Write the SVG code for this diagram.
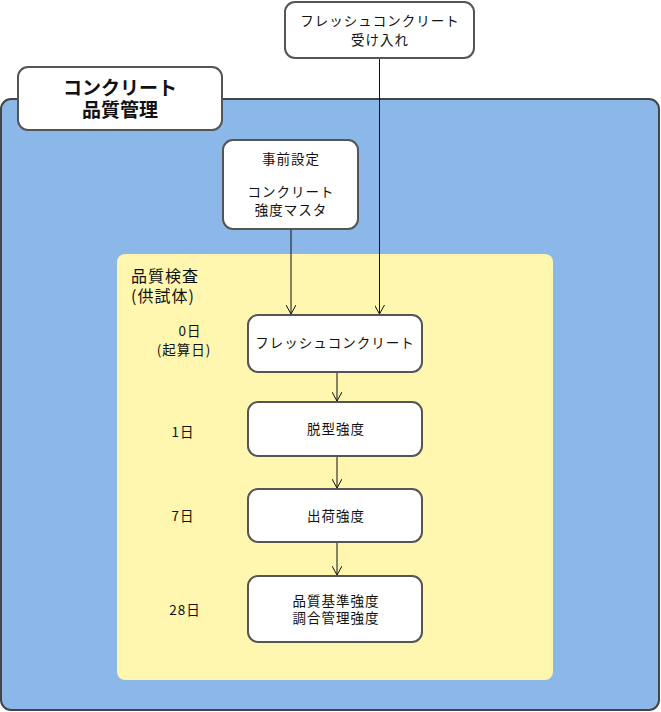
<svg xmlns="http://www.w3.org/2000/svg" width="661" height="712" viewBox="0 0 661 712">
<defs>
<style>
.t{font-family:"Noto Sans CJK JP","Noto Sans",sans-serif;font-size:13.5px;letter-spacing:1px;fill:#111;text-anchor:middle}
.b{fill:#fff;stroke:#555;stroke-width:2}
.c{stroke:#111;stroke-width:1;fill:none}
</style>
<marker id="a" viewBox="0 0 10 10" refX="10" refY="5" markerWidth="10" markerHeight="10" markerUnits="userSpaceOnUse" orient="auto">
<path d="M1,0 L10,5 L1,10" fill="none" stroke="#111" stroke-width="1"/>
</marker>
</defs>
<g id="container">
<rect x="1" y="99" width="658" height="611" rx="10" fill="#8bb8e8" stroke="#444" stroke-width="2"/>
</g>
<g id="title">
<rect x="18" y="67" width="204" height="63" rx="10" class="b"/>
<text x="120" y="95" class="t" style="font-size:19px;font-weight:bold;letter-spacing:0">コンクリート</text>
<text x="120" y="117" class="t" style="font-size:19px;font-weight:bold;letter-spacing:0">品質管理</text>
</g>
<g id="inspection">
<rect x="117" y="254" width="436" height="426" rx="8" fill="#fff6b0"/>
<text x="131" y="282" class="t" style="text-anchor:start;font-size:16px">品質検査</text>
<text x="131" y="302" class="t" style="text-anchor:start;font-size:16px">(供試体)</text>
<text x="190" y="336" class="t">0日</text>
<text x="184" y="355" class="t">(起算日)</text>
<text x="183" y="437" class="t">1日</text>
<text x="183" y="521" class="t">7日</text>
<text x="185" y="615" class="t">28日</text>
</g>
<g id="receive">
<rect x="285" y="2" width="189" height="56" rx="10" class="b"/>
<text x="380" y="26" class="t">フレッシュコンクリート</text>
<text x="380" y="45" class="t">受け入れ</text>
</g>
<g id="preset">
<rect x="223" y="140" width="135" height="89" rx="10" class="b"/>
<text x="291" y="164" class="t">事前設定</text>
<text x="291" y="197" class="t">コンクリート</text>
<text x="291" y="215" class="t">強度マスタ</text>
</g>
<g id="fresh">
<rect x="248" y="315" width="174" height="57" rx="10" class="b"/>
<text x="335" y="348" class="t">フレッシュコンクリート</text>
</g>
<g id="demold">
<rect x="248" y="402" width="174" height="54" rx="10" class="b"/>
<text x="336" y="434" class="t">脱型強度</text>
</g>
<g id="ship">
<rect x="248" y="489" width="174" height="53" rx="10" class="b"/>
<text x="336" y="521" class="t">出荷強度</text>
</g>
<g id="quality">
<rect x="248" y="576" width="174" height="66" rx="10" class="b"/>
<text x="336" y="606" class="t">品質基準強度</text>
<text x="336" y="623" class="t">調合管理強度</text>
</g>
<g id="connectors">
<path d="M291,230 V314" class="c" marker-end="url(#a)"/>
<path d="M379.5,59 V314" class="c" marker-end="url(#a)"/>
<path d="M337,373 V401" class="c" marker-end="url(#a)"/>
<path d="M337,457 V488" class="c" marker-end="url(#a)"/>
<path d="M337,543 V575" class="c" marker-end="url(#a)"/>
</g>
</svg>
